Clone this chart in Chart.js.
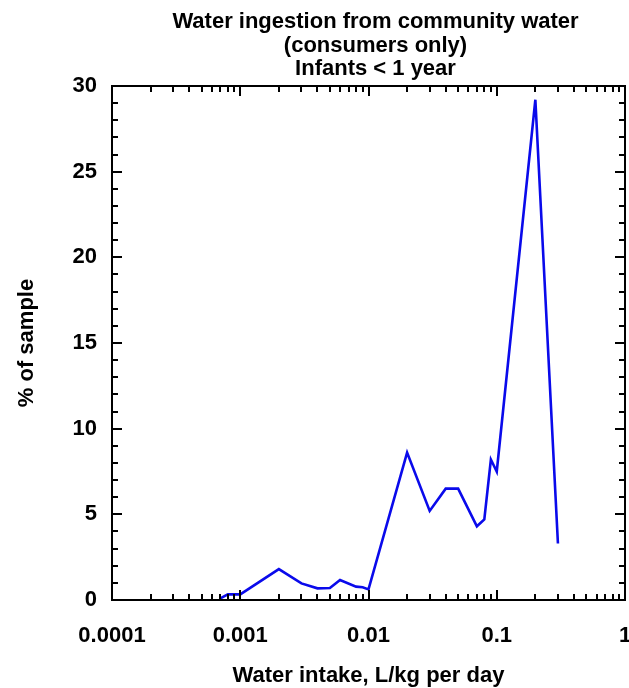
<!DOCTYPE html>
<html>
<head>
<meta charset="utf-8">
<script src="https://cdn.jsdelivr.net/npm/chart.js@4.4.1/dist/chart.umd.min.js"></script>
<style>
  html, body { margin: 0; padding: 0; background: #fff; }
  #wrap { width: 629px; height: 688px; position: relative; }
</style>
</head>
<body>
<div id="wrap"><canvas id="chart"></canvas></div>
<script>
// ─── Data ───────────────────────────────────────────────────────────────────

const intake = [0.0007, 0.0008, 0.001, 0.002, 0.003, 0.004, 0.005, 0.006, 0.008, 0.009, 0.01,
                0.02, 0.03, 0.04, 0.05, 0.07, 0.08, 0.09, 0.1, 0.2, 0.3];
const pctSample = [0.1, 0.33, 0.33, 1.8, 0.97, 0.68, 0.7, 1.17, 0.78, 0.74, 0.62,
                   8.6, 5.2, 6.5, 6.5, 4.3, 4.7, 8.2, 7.5, 29.2, 3.3];

const xTickValues = [0.0001, 0.001, 0.01, 0.1, 1];
const xTickLabels = ['0.0001', '0.001', '0.01', '0.1', '1'];
const yTickValues = [0, 5, 10, 15, 20, 25, 30];

const titleLines = ['Water ingestion from community water', '(consumers only)', 'Infants < 1 year'];
const xTitle = 'Water intake, L/kg per day';
const yTitle = '% of sample';

// ─── Style ──────────────────────────────────────────────────────────────────

const FONT = '"Liberation Sans", Arial, Helvetica, sans-serif';
const LABEL_FONT = { family: FONT, size: 22, weight: 'bold', lineHeight: 1 };
const LINE_COLOR = 'rgb(10, 10, 235)';

// ─── Inward ticks + frame on all four sides ────────────────────────────────

const frameTicksPlugin = {
  id: 'frameTicks',
  afterDraw(chart) {
    const { ctx, chartArea: a, scales: { x, y } } = chart;
    ctx.save();
    ctx.strokeStyle = '#000';
    ctx.lineWidth = 2;
    ctx.lineCap = 'butt';

    ctx.beginPath();
    // x ticks: majors at decades, minors at 2..9
    for (let e = -4; e <= 0; e++) {
      const base = Math.pow(10, e);
      for (let m = 1; m <= 9; m++) {
        const v = base * m;
        if (v > 1.0000001) break;
        const px = Math.round(x.getPixelForValue(v));
        const len = m === 1 ? 10 : 6;
        ctx.moveTo(px, a.bottom); ctx.lineTo(px, a.bottom - len);
        ctx.moveTo(px, a.top); ctx.lineTo(px, a.top + len);
      }
    }
    // y ticks: majors every 5, minors every 1
    for (let v = 0; v <= 30; v++) {
      const py = Math.round(y.getPixelForValue(v));
      const len = v % 5 === 0 ? 10 : 6;
      ctx.moveTo(a.left, py); ctx.lineTo(a.left + len, py);
      ctx.moveTo(a.right, py); ctx.lineTo(a.right - len, py);
    }
    ctx.stroke();

    ctx.strokeRect(a.left, a.top, a.right - a.left, a.bottom - a.top);
    ctx.restore();
  }
};

// ─── Three-line title centred over the plot ────────────────────────────────

const titlePlugin = {
  id: 'threeLineTitle',
  afterDraw(chart) {
    const { ctx, chartArea: a } = chart;
    ctx.save();
    ctx.fillStyle = '#000';
    ctx.font = `bold 22px ${FONT}`;
    ctx.textAlign = 'center';
    ctx.textBaseline = 'alphabetic';
    const cx = (a.left + a.right) / 2 + 7;
    titleLines.forEach((t, i) => ctx.fillText(t, cx, 28 + i * 23.5));
    ctx.restore();
  }
};

// ─── Chart ──────────────────────────────────────────────────────────────────

const ctx = document.getElementById('chart').getContext('2d');

new Chart(ctx, {
  type: 'line',
  data: {
    datasets: [{
      label: yTitle,
      data: intake.map((v, i) => ({ x: v, y: pctSample[i] })),
      borderColor: LINE_COLOR,
      borderWidth: 2.6,
      pointRadius: 0,
      fill: false,
      tension: 0
    }]
  },
  plugins: [frameTicksPlugin, titlePlugin],
  options: {
    responsive: true,
    maintainAspectRatio: false,
    animation: false,
    events: [],
    layout: { padding: { top: 86, right: 4, left: 0, bottom: 0 } },
    plugins: {
      legend: { display: false },
      tooltip: { enabled: false },
      title: { display: false }
    },
    scales: {
      x: {
        type: 'logarithmic',
        min: 0.0001,
        max: 1,
        afterBuildTicks: (scale) => { scale.ticks = xTickValues.map(v => ({ value: v })); },
        afterFit: (scale) => {
          scale.height = 88;
          scale.paddingLeft = 0;
          scale.paddingRight = 0;
        },
        grid: { display: false, drawTicks: false },
        border: { display: false },
        ticks: {
          autoSkip: false,
          maxRotation: 0,
          color: '#000',
          padding: 25,
          font: LABEL_FONT,
          callback: (val, idx) => xTickLabels[idx]
        },
        title: {
          display: true,
          text: xTitle,
          color: '#000',
          font: LABEL_FONT,
          padding: { top: 0, bottom: 1 }
        }
      },
      y: {
        min: 0,
        max: 30,
        afterBuildTicks: (scale) => { scale.ticks = yTickValues.map(v => ({ value: v })); },
        afterFit: (scale) => {
          scale.width = 112;
          scale.paddingTop = 0;
          scale.paddingBottom = 0;
        },
        grid: { display: false, drawTicks: false },
        border: { display: false },
        ticks: {
          color: '#000',
          padding: 15,
          font: LABEL_FONT
        },
        title: {
          display: true,
          text: yTitle,
          color: '#000',
          font: LABEL_FONT,
          padding: { top: 16, bottom: 0 }
        }
      }
    }
  }
});
</script>
</body>
</html>
